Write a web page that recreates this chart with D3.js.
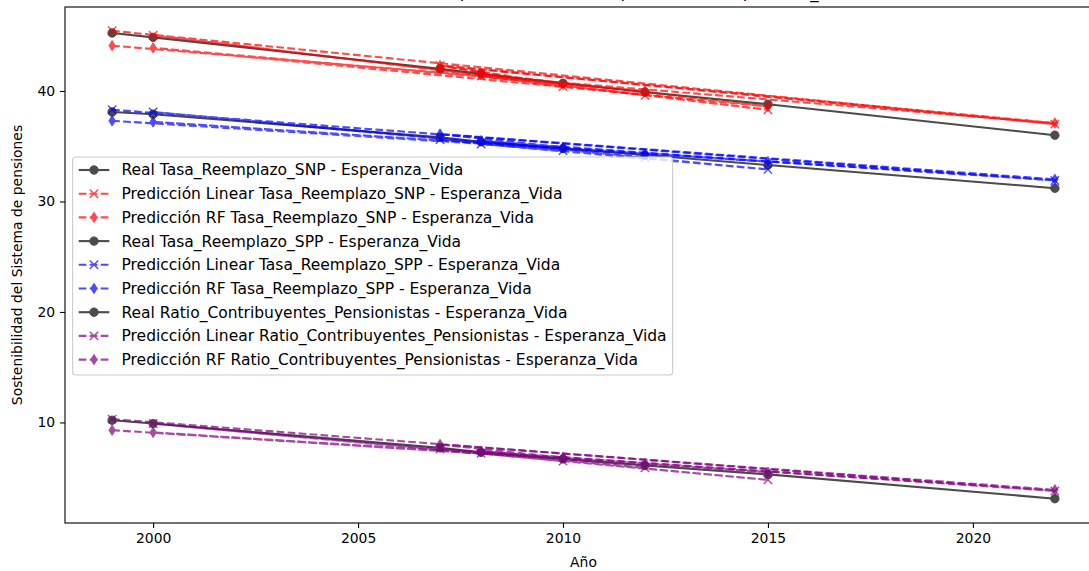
<!DOCTYPE html>
<html>
<head>
<meta charset="utf-8">
<script src="https://cdn.jsdelivr.net/npm/d3@7"></script>
<style>
  html, body { margin: 0; padding: 0; background: #fff; }
  svg { display: block; font-family: "DejaVu Sans", sans-serif; }
</style>
</head>
<body>
<svg id="chart" width="1089" height="571"></svg>
<script>
// Años observados (serie real, orden cronológico)
const years = [1999, 2000, 2007, 2008, 2010, 2012, 2015, 2022];
// Años en el orden en que se trazan las predicciones (entrenamiento + prueba)
const predYears = [1999, 2022, 2007, 2010, 2008, 2015, 2000, 2012];

// Tasa de reemplazo SNP
const realSNP   = [45.25, 44.85, 42.0, 41.55, 40.7, 39.9, 38.8, 36.0];
const linSNP    = [45.45, 37.0, 42.3, 40.4, 41.35, 38.3, 45.05, 39.6];
const rfSNP     = [44.1, 37.1, 42.3, 40.6, 41.6, 38.6, 43.9, 40.0];

// Tasa de reemplazo SPP
const realSPP   = [38.1, 37.9, 35.8, 35.4, 34.8, 34.2, 33.3, 31.2];
const linSPP    = [38.3, 31.9, 35.6, 34.6, 35.2, 32.9, 38.1, 34.0];
const rfSPP     = [37.3, 32.0, 36.1, 34.9, 35.5, 33.6, 37.2, 34.3];

// Ratio contribuyentes / pensionistas
const realRatio = [10.2, 9.9, 7.7, 7.3, 6.7, 6.1, 5.3, 3.1];
const linRatio  = [10.3, 3.8, 7.6, 6.5, 7.2, 4.8, 9.9, 5.9];
const rfRatio   = [9.3, 3.9, 8.0, 6.8, 7.4, 5.5, 9.1, 6.3];

const xTicks = [2000, 2005, 2010, 2015, 2020];
const yTicks = [10, 20, 30, 40];

const series = [
  { label: "Real Tasa_Reemplazo_SNP - Esperanza_Vida", xs: years, values: realSNP, color: "black", marker: "o", dash: false },
  { label: "Predicción Linear Tasa_Reemplazo_SNP - Esperanza_Vida", xs: predYears, values: linSNP, color: "red", marker: "x", dash: true },
  { label: "Predicción RF Tasa_Reemplazo_SNP - Esperanza_Vida", xs: predYears, values: rfSNP, color: "red", marker: "d", dash: true },
  { label: "Real Tasa_Reemplazo_SPP - Esperanza_Vida", xs: years, values: realSPP, color: "black", marker: "o", dash: false },
  { label: "Predicción Linear Tasa_Reemplazo_SPP - Esperanza_Vida", xs: predYears, values: linSPP, color: "blue", marker: "x", dash: true },
  { label: "Predicción RF Tasa_Reemplazo_SPP - Esperanza_Vida", xs: predYears, values: rfSPP, color: "blue", marker: "d", dash: true },
  { label: "Real Ratio_Contribuyentes_Pensionistas - Esperanza_Vida", xs: years, values: realRatio, color: "black", marker: "o", dash: false },
  { label: "Predicción Linear Ratio_Contribuyentes_Pensionistas - Esperanza_Vida", xs: predYears, values: linRatio, color: "purple", marker: "x", dash: true },
  { label: "Predicción RF Ratio_Contribuyentes_Pensionistas - Esperanza_Vida", xs: predYears, values: rfRatio, color: "purple", marker: "d", dash: true }
];

const svg = d3.select("#chart");
const plot = { left: 65, right: 1102, top: 7, bottom: 523 };

const x = d3.scaleLinear().domain([1997.85, 2023.15]).range([plot.left, plot.right]);
const y = d3.scaleLinear().domain([0.9, 47.6]).range([plot.bottom, plot.top]);

const ALPHA = 0.7;
const LW = 2.1;
const DASH = "7.7,3.3";

// Título (casi fuera del lienzo)
svg.append("text")
  .attr("x", 583).attr("y", -2)
  .attr("text-anchor", "middle")
  .attr("font-size", 16.7)
  .attr("fill", "#000")
  .text("Sostenibilidad de pensiones: Real vs predicción - Esperanza_Vida");

// Marcadores
function drawMarker(g, kind, cx, cy, color) {
  if (kind === "o") {
    g.append("circle").attr("cx", cx).attr("cy", cy).attr("r", 4.2)
      .attr("fill", color).attr("stroke", color).attr("stroke-width", 1);
  } else if (kind === "x") {
    const s = 4.2;
    g.append("path")
      .attr("d", `M${cx - s},${cy - s}L${cx + s},${cy + s}M${cx - s},${cy + s}L${cx + s},${cy - s}`)
      .attr("stroke", color).attr("stroke-width", 1.4).attr("fill", "none");
  } else {
    const h = 5.2, w = 3.2;
    g.append("path")
      .attr("d", `M${cx},${cy - h}L${cx + w},${cy}L${cx},${cy + h}L${cx - w},${cy}Z`)
      .attr("fill", color).attr("stroke", color).attr("stroke-width", 1);
  }
}

const line = d3.line().x(d => x(d[0])).y(d => y(d[1]));

svg.append("clipPath").attr("id", "clip").append("rect")
  .attr("x", plot.left).attr("y", plot.top)
  .attr("width", plot.right - plot.left).attr("height", plot.bottom - plot.top);
const plotG = svg.append("g").attr("clip-path", "url(#clip)");

series.forEach(s => {
  const g = plotG.append("g").attr("opacity", ALPHA);
  const pts = s.xs.map((yr, i) => [yr, s.values[i]]);
  g.append("path").attr("d", line(pts))
    .attr("fill", "none").attr("stroke", s.color).attr("stroke-width", LW)
    .attr("stroke-linejoin", "round")
    .attr("stroke-dasharray", s.dash ? DASH : null);
  pts.forEach(p => drawMarker(g, s.marker, x(p[0]), y(p[1]), s.color));
});

// Ejes
const xAxis = d3.axisBottom(x).tickValues(xTicks).tickFormat(d3.format("d")).tickSize(4.9).tickPadding(4.9);
const yAxis = d3.axisLeft(y).tickValues(yTicks).tickFormat(d3.format("d")).tickSize(4.9).tickPadding(4.9);

const gx = svg.append("g").attr("transform", `translate(0,${plot.bottom})`).call(xAxis);
const gy = svg.append("g").attr("transform", `translate(${plot.left},0)`).call(yAxis);
[gx, gy].forEach(g => {
  g.select(".domain").remove();
  g.selectAll(".tick line").attr("stroke", "#000").attr("stroke-width", 1.1);
  g.selectAll(".tick text").attr("font-size", 13.9).attr("fill", "#000")
    .attr("font-family", "DejaVu Sans, sans-serif");
});

// Marco
svg.append("rect")
  .attr("x", plot.left).attr("y", plot.top)
  .attr("width", plot.right - plot.left).attr("height", plot.bottom - plot.top)
  .attr("fill", "none").attr("stroke", "#000").attr("stroke-width", 1.1);

// Etiquetas de ejes
svg.append("text").attr("x", (plot.left + plot.right) / 2).attr("y", 567)
  .attr("text-anchor", "middle").attr("font-size", 13.9).text("Año");
svg.append("text")
  .attr("transform", `translate(22,${(plot.top + plot.bottom) / 2}) rotate(-90)`)
  .attr("text-anchor", "middle").attr("font-size", 13.9)
  .text("Sostenibilidad del Sistema de pensiones");

// Leyenda
const leg = svg.append("g");
const legX = 72.6, legY = 157, rowH = 23.7, legFont = 15.5;
leg.append("rect").attr("x", legX).attr("y", legY).attr("width", 600).attr("height", 218)
  .attr("rx", 3).attr("fill", "#fff").attr("fill-opacity", 0.8)
  .attr("stroke", "#ccc").attr("stroke-width", 1.1);
series.forEach((s, i) => {
  const cy = legY + 13 + i * rowH;
  const g = leg.append("g").attr("opacity", ALPHA);
  g.append("line").attr("x1", legX + 6.1).attr("x2", legX + 36.7).attr("y1", cy).attr("y2", cy)
    .attr("stroke", s.color).attr("stroke-width", LW)
    .attr("stroke-dasharray", s.dash ? DASH : null);
  drawMarker(g, s.marker, legX + 21.4, cy, s.color);
  leg.append("text").attr("x", legX + 48.9).attr("y", cy).attr("dy", "0.35em")
    .attr("font-size", legFont).attr("fill", "#000").text(s.label);
});
</script>
</body>
</html>
